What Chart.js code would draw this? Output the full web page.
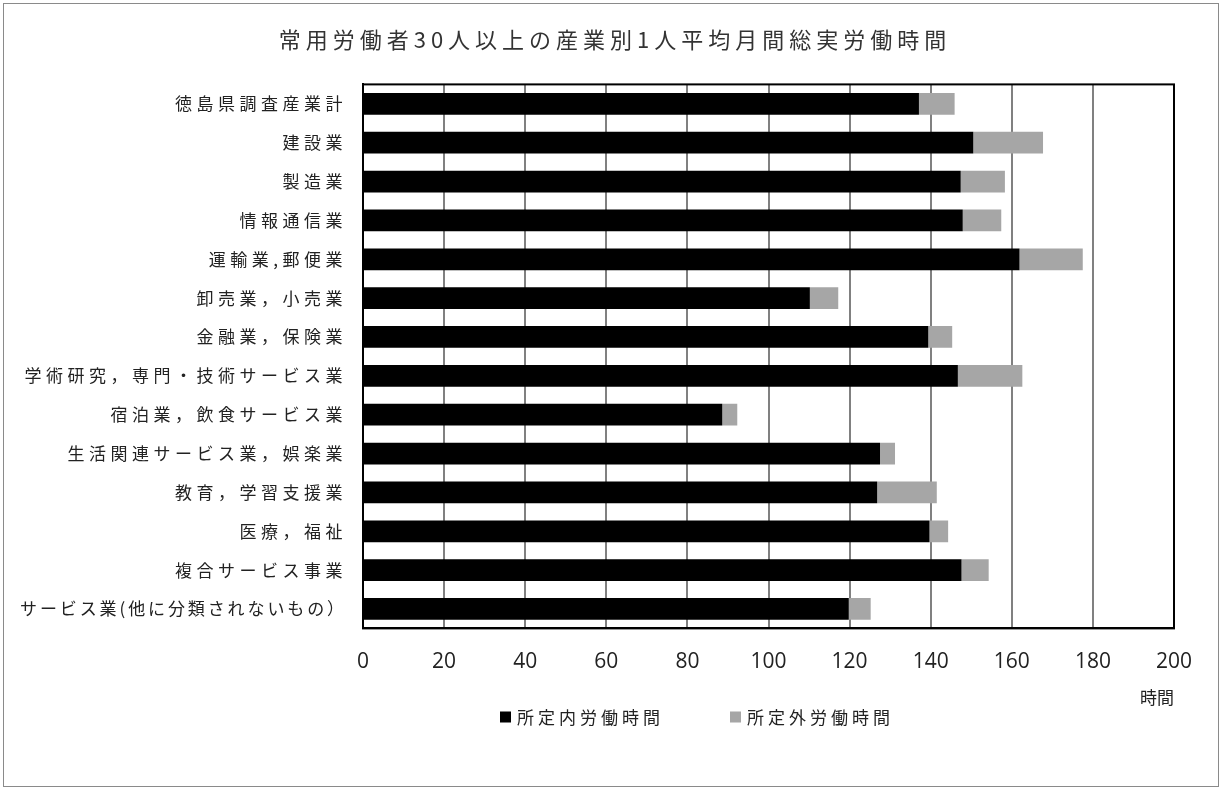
<!DOCTYPE html>
<html>
<head>
<meta charset="utf-8">
<script src="https://cdn.jsdelivr.net/npm/chart.js@4"></script>
<style>
  body { margin: 0; background: #fff; }
  #frame { position: absolute; left: 3px; top: 3px; width: 1214px; height: 782px; border: 1px solid #8a8a8a; }
  #wrap { position: absolute; left: 0; top: 0; width: 1214px; height: 782px; }
</style>
</head>
<body>
<div id="frame"><div id="wrap"><canvas id="hours"></canvas></div></div>
<script>
// ---- data ----
const industries = [
  "徳島県調査産業計", "建設業", "製造業", "情報通信業", "運輸業,郵便業",
  "卸売業，小売業", "金融業，保険業", "学術研究，専門・技術サービス業",
  "宿泊業，飲食サービス業", "生活関連サービス業，娯楽業", "教育，学習支援業",
  "医療，福祉", "複合サービス事業", "サービス業(他に分類されないもの）"
];
// scheduled hours (所定内) and overtime hours (所定外)
const scheduled = [137.1, 150.5, 147.4, 147.9, 161.9, 110.2, 139.4, 146.7, 88.6, 127.5, 126.8, 139.7, 147.6, 119.8];
const overtime = [8.8, 17.2, 10.9, 9.5, 15.6, 7.0, 5.9, 15.9, 3.7, 3.7, 14.7, 4.6, 6.7, 5.4];
const xTicks = [0, 20, 40, 60, 80, 100, 120, 140, 160, 180, 200];

const jp = "'Noto Sans CJK JP', 'Noto Sans', sans-serif";

// run one of a box's draw methods with wider letter spacing
// (the original uses a spaced-out gothic font), optionally nudged sideways.
// fitWidth: shrink the spacing for any text that would get wider than this
function spaced(box, method, px, dx = 0, fitWidth = 0) {
  if (!box || box["_sp_" + method]) return;
  const orig = box[method].bind(box);
  box[method] = function (...args) {
    const c = this.ctx;
    c.save();
    c.translate(dx, 0);
    c.letterSpacing = px + "px";
    if (fitWidth) {
      const fill = c.fillText;
      c.fillText = function (text, x, y) {
        c.letterSpacing = "0px";
        const w = c.measureText(text).width;
        const n = [...String(text)].length;
        const sp = Math.min(px, Math.max(0, (fitWidth - w) / n));
        c.letterSpacing = sp + "px";
        fill.call(c, text, x, y);
      };
      orig(...args);
      delete c.fillText;
    } else {
      orig(...args);
    }
    c.restore();
  };
  box["_sp_" + method] = true;
}

// legend row drawn under the axis, boxes + labels taken from the datasets
const legendRow = {
  id: "legendRow",
  afterDraw(chart) {
    const c = chart.ctx;
    const y = 713;
    let x = 496;
    c.save();
    c.font = "17px " + jp;
    c.letterSpacing = "4px";
    c.textBaseline = "middle";
    c.textAlign = "left";
    chart.data.datasets.forEach((ds) => {
      c.fillStyle = ds.backgroundColor;
      c.fillRect(x, y - 5.5, 11, 11);
      c.fillStyle = "#222";
      c.fillText(ds.label, x + 17, y + 1);
      x += 17 + c.measureText(ds.label).width + 66;
    });
    c.restore();
  }
};

new Chart(document.getElementById("hours"), {
  type: "bar",
  data: {
    labels: industries,
    datasets: [
      { label: "所定内労働時間", data: scheduled, backgroundColor: "#000", barPercentage: 0.56, categoryPercentage: 1 },
      { label: "所定外労働時間", data: overtime, backgroundColor: "#a6a6a6", barPercentage: 0.56, categoryPercentage: 1 }
    ]
  },
  options: {
    indexAxis: "y",
    responsive: true,
    maintainAspectRatio: false,
    animation: false,
    layout: { padding: { left: 10, right: 44, top: 0, bottom: 78 } },
    scales: {
      x: {
        stacked: true,
        min: 0,
        max: 200,
        afterBuildTicks: (axis) => { axis.ticks = xTicks.map(v => ({ value: v })); },
        grid: { color: "#808080", lineWidth: 2, drawTicks: false },
        border: { color: "#000", width: 2 },
        ticks: { color: "#222", padding: 21, font: { family: "'Open Sans', sans-serif", size: 21 } },
        title: { display: true, text: "時間", align: "end", color: "#222", font: { family: jp, size: 17 }, padding: { top: -8, bottom: 0 } }
      },
      y: {
        stacked: true,
        afterFit: (axis) => { axis.width = 349; },
        grid: { display: false },
        border: { color: "#000", width: 2 },
        ticks: { color: "#222", padding: 8, font: { family: jp, size: 17 } }
      }
    },
    plugins: {
      title: {
        display: true,
        text: "常用労働者30人以上の産業別1人平均月間総実労働時間",
        color: "#333",
        font: { family: jp, size: 22, weight: "normal" },
        padding: { top: 22, bottom: 32 }
      },
      legend: { display: false },
      tooltip: { enabled: false }
    }
  },
  plugins: [{
    id: "spacing",
    afterLayout(chart) {
      spaced(chart.scales.y, "drawLabels", 4.5, 0, 327);
      spaced(chart.titleBlock, "draw", 5, 21);
    },
    // outer plot frame
    afterDraw(chart) {
      const a = chart.chartArea, c = chart.ctx;
      c.save();
      c.strokeStyle = "#000";
      c.lineWidth = 2;
      c.strokeRect(a.left, a.top, a.right - a.left, a.bottom - a.top);
      c.restore();
    }
  }, legendRow]
});
</script>
</body>
</html>
